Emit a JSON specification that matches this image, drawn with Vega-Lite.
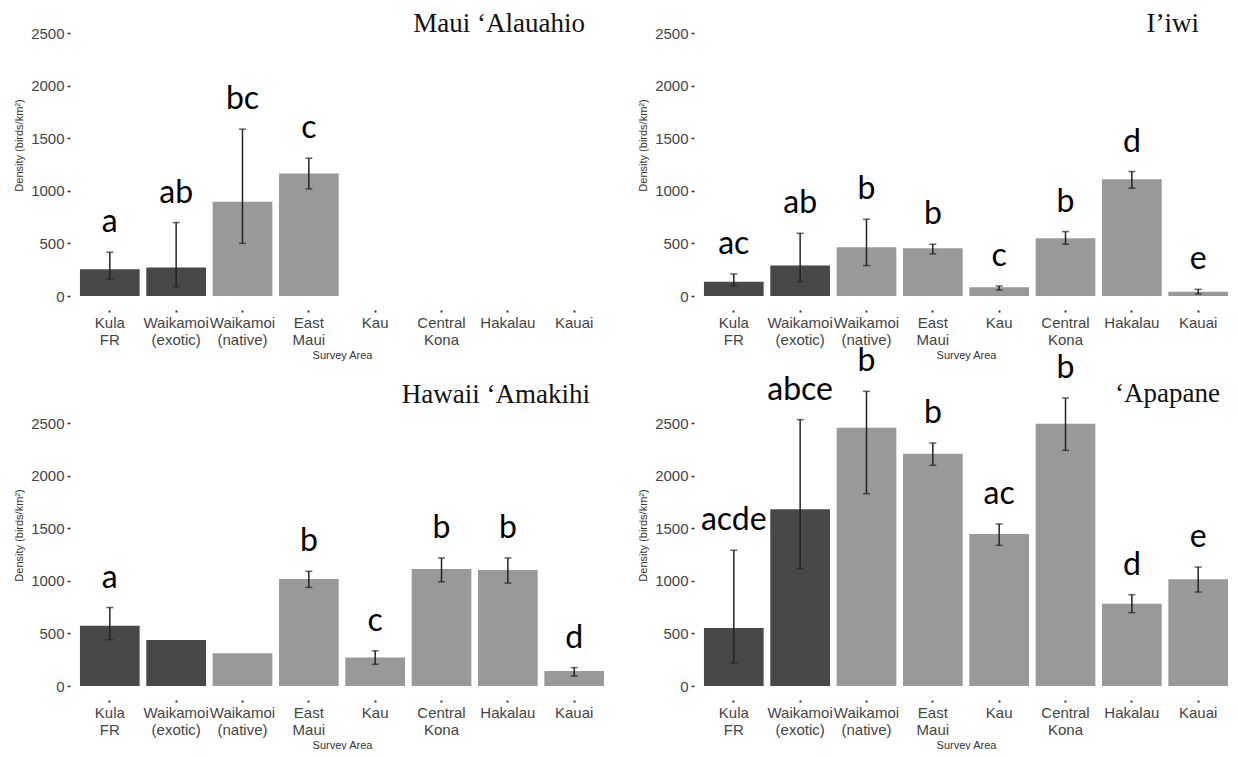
{
  "$schema": "https://vega.github.io/schema/vega-lite/v6.json",
  "background": "white",
  "padding": {"left": 13, "top": 10, "right": 0, "bottom": 0},
  "columns": 2,
  "spacing": {"row": 127, "column": 80},
  "bounds": "flush",
  "data": {
    "values": [
      {"species": "Maui ‘Alauahio", "area": "Kula FR", "forest": "Exotic", "density": 254, "lo": 159, "hi": 416, "letter": "a"},
      {"species": "Maui ‘Alauahio", "area": "Waikamoi (exotic)", "forest": "Exotic", "density": 270, "lo": 89, "hi": 698, "letter": "ab"},
      {"species": "Maui ‘Alauahio", "area": "Waikamoi (native)", "forest": "Native", "density": 895, "lo": 501, "hi": 1586, "letter": "bc"},
      {"species": "Maui ‘Alauahio", "area": "East Maui", "forest": "Native", "density": 1164, "lo": 1018, "hi": 1310, "letter": "c"},

      {"species": "I’iwi", "area": "Kula FR", "forest": "Exotic", "density": 136, "lo": 95, "hi": 209, "letter": "ac"},
      {"species": "I’iwi", "area": "Waikamoi (exotic)", "forest": "Exotic", "density": 289, "lo": 136, "hi": 596, "letter": "ab"},
      {"species": "I’iwi", "area": "Waikamoi (native)", "forest": "Native", "density": 463, "lo": 289, "hi": 730, "letter": "b"},
      {"species": "I’iwi", "area": "East Maui", "forest": "Native", "density": 454, "lo": 400, "hi": 492, "letter": "b"},
      {"species": "I’iwi", "area": "Kau", "forest": "Native", "density": 82, "lo": 57, "hi": 95, "letter": "c"},
      {"species": "I’iwi", "area": "Central Kona", "forest": "Native", "density": 549, "lo": 492, "hi": 612, "letter": "b"},
      {"species": "I’iwi", "area": "Hakalau", "forest": "Native", "density": 1110, "lo": 1025, "hi": 1183, "letter": "d"},
      {"species": "I’iwi", "area": "Kauai", "forest": "Native", "density": 41, "lo": 19, "hi": 63, "letter": "e"},

      {"species": "Hawaii ‘Amakihi", "area": "Kula FR", "forest": "Exotic", "density": 572, "lo": 440, "hi": 746, "letter": "a"},
      {"species": "Hawaii ‘Amakihi", "area": "Waikamoi (exotic)", "forest": "Exotic", "density": 438, "lo": null, "hi": null, "letter": ""},
      {"species": "Hawaii ‘Amakihi", "area": "Waikamoi (native)", "forest": "Native", "density": 311, "lo": null, "hi": null, "letter": ""},
      {"species": "Hawaii ‘Amakihi", "area": "East Maui", "forest": "Native", "density": 1017, "lo": 937, "hi": 1090, "letter": "b"},
      {"species": "Hawaii ‘Amakihi", "area": "Kau", "forest": "Native", "density": 270, "lo": 206, "hi": 334, "letter": "c"},
      {"species": "Hawaii ‘Amakihi", "area": "Central Kona", "forest": "Native", "density": 1112, "lo": 991, "hi": 1217, "letter": "b"},
      {"species": "Hawaii ‘Amakihi", "area": "Hakalau", "forest": "Native", "density": 1102, "lo": 978, "hi": 1217, "letter": "b"},
      {"species": "Hawaii ‘Amakihi", "area": "Kauai", "forest": "Native", "density": 143, "lo": 95, "hi": 175, "letter": "d"},

      {"species": "‘Apapane", "area": "Kula FR", "forest": "Exotic", "density": 551, "lo": 219, "hi": 1290, "letter": "acde"},
      {"species": "‘Apapane", "area": "Waikamoi (exotic)", "forest": "Exotic", "density": 1679, "lo": 1115, "hi": 2532, "letter": "abce"},
      {"species": "‘Apapane", "area": "Waikamoi (native)", "forest": "Native", "density": 2456, "lo": 1828, "hi": 2801, "letter": "b"},
      {"species": "‘Apapane", "area": "East Maui", "forest": "Native", "density": 2208, "lo": 2098, "hi": 2310, "letter": "b"},
      {"species": "‘Apapane", "area": "Kau", "forest": "Native", "density": 1445, "lo": 1337, "hi": 1540, "letter": "ac"},
      {"species": "‘Apapane", "area": "Central Kona", "forest": "Native", "density": 2494, "lo": 2240, "hi": 2738, "letter": "b"},
      {"species": "‘Apapane", "area": "Hakalau", "forest": "Native", "density": 783, "lo": 697, "hi": 868, "letter": "d"},
      {"species": "‘Apapane", "area": "Kauai", "forest": "Native", "density": 1014, "lo": 893, "hi": 1131, "letter": "e"}
    ]
  },
  "concat": [
    {
      "width": 544, "height": 263,
      "title": {"text": "Maui ‘Alauahio", "anchor": "end", "frame": "group", "baseline": "alphabetic", "offset": 4, "dx": -29, "dy": 37},
      "transform": [{"filter": "datum.species === 'Maui ‘Alauahio'"}],
      "encoding": {"x": {"field": "area", "type": "nominal", "title": "Survey Area", "scale": {"domain": ["Kula FR", "Waikamoi (exotic)", "Waikamoi (native)", "East Maui", "Kau", "Central Kona", "Hakalau", "Kauai"]}}},
      "layer": [
        {"mark": {"type": "bar"}, "encoding": {
          "y": {"field": "density", "type": "quantitative", "title": "Density (birds/km²)", "scale": {"domain": [0, 2500], "nice": false}, "axis": {"values": [0, 500, 1000, 1500, 2000, 2500], "format": "d"}},
          "color": {"field": "forest", "type": "nominal", "scale": {"domain": ["Exotic", "Native"], "range": ["#484848", "#999999"]}, "legend": null}}},
        {"transform": [{"filter": "isValid(datum.lo)"}], "mark": {"type": "rule", "strokeWidth": 1.5, "color": "#222222"}, "encoding": {"y": {"field": "lo", "type": "quantitative", "scale": {"domain": [0, 2500], "nice": false}}, "y2": {"field": "hi"}}},
        {"transform": [{"filter": "isValid(datum.lo)"}], "mark": {"type": "tick", "size": 7, "thickness": 1.5, "color": "#222222"}, "encoding": {"y": {"field": "lo", "type": "quantitative", "scale": {"domain": [0, 2500], "nice": false}}}},
        {"transform": [{"filter": "isValid(datum.hi)"}], "mark": {"type": "tick", "size": 7, "thickness": 1.5, "color": "#222222"}, "encoding": {"y": {"field": "hi", "type": "quantitative", "scale": {"domain": [0, 2500], "nice": false}}}},
        {"transform": [{"filter": "datum.letter !== ''"}], "mark": {"type": "text", "font": "Lato", "fontSize": 32, "baseline": "alphabetic", "dy": -20, "color": "#000000"}, "encoding": {"y": {"field": "hi", "type": "quantitative", "scale": {"domain": [0, 2500], "nice": false}}, "text": {"field": "letter"}}}
      ]
    },
    {
      "width": 544, "height": 263,
      "title": {"text": "I’iwi", "anchor": "end", "frame": "group", "baseline": "alphabetic", "offset": 4, "dx": -39, "dy": 37},
      "transform": [{"filter": "datum.species === 'I’iwi'"}],
      "encoding": {"x": {"field": "area", "type": "nominal", "title": "Survey Area", "scale": {"domain": ["Kula FR", "Waikamoi (exotic)", "Waikamoi (native)", "East Maui", "Kau", "Central Kona", "Hakalau", "Kauai"]}}},
      "layer": [
        {"mark": {"type": "bar"}, "encoding": {
          "y": {"field": "density", "type": "quantitative", "title": "Density (birds/km²)", "scale": {"domain": [0, 2500], "nice": false}, "axis": {"values": [0, 500, 1000, 1500, 2000, 2500], "format": "d"}},
          "color": {"field": "forest", "type": "nominal", "scale": {"domain": ["Exotic", "Native"], "range": ["#484848", "#999999"]}, "legend": null}}},
        {"transform": [{"filter": "isValid(datum.lo)"}], "mark": {"type": "rule", "strokeWidth": 1.5, "color": "#222222"}, "encoding": {"y": {"field": "lo", "type": "quantitative", "scale": {"domain": [0, 2500], "nice": false}}, "y2": {"field": "hi"}}},
        {"transform": [{"filter": "isValid(datum.lo)"}], "mark": {"type": "tick", "size": 7, "thickness": 1.5, "color": "#222222"}, "encoding": {"y": {"field": "lo", "type": "quantitative", "scale": {"domain": [0, 2500], "nice": false}}}},
        {"transform": [{"filter": "isValid(datum.hi)"}], "mark": {"type": "tick", "size": 7, "thickness": 1.5, "color": "#222222"}, "encoding": {"y": {"field": "hi", "type": "quantitative", "scale": {"domain": [0, 2500], "nice": false}}}},
        {"transform": [{"filter": "datum.letter !== ''"}], "mark": {"type": "text", "font": "Lato", "fontSize": 32, "baseline": "alphabetic", "dy": -20, "color": "#000000"}, "encoding": {"y": {"field": "hi", "type": "quantitative", "scale": {"domain": [0, 2500], "nice": false}}, "text": {"field": "letter"}}}
      ]
    },
    {
      "width": 544, "height": 263,
      "title": {"text": "Hawaii ‘Amakihi", "anchor": "end", "frame": "group", "baseline": "alphabetic", "offset": 21, "dx": -24, "dy": 35},
      "transform": [{"filter": "datum.species === 'Hawaii ‘Amakihi'"}],
      "encoding": {"x": {"field": "area", "type": "nominal", "title": "Survey Area", "scale": {"domain": ["Kula FR", "Waikamoi (exotic)", "Waikamoi (native)", "East Maui", "Kau", "Central Kona", "Hakalau", "Kauai"]}}},
      "layer": [
        {"mark": {"type": "bar"}, "encoding": {
          "y": {"field": "density", "type": "quantitative", "title": "Density (birds/km²)", "scale": {"domain": [0, 2500], "nice": false}, "axis": {"values": [0, 500, 1000, 1500, 2000, 2500], "format": "d"}},
          "color": {"field": "forest", "type": "nominal", "scale": {"domain": ["Exotic", "Native"], "range": ["#484848", "#999999"]}, "legend": null}}},
        {"transform": [{"filter": "isValid(datum.lo)"}], "mark": {"type": "rule", "strokeWidth": 1.5, "color": "#222222"}, "encoding": {"y": {"field": "lo", "type": "quantitative", "scale": {"domain": [0, 2500], "nice": false}}, "y2": {"field": "hi"}}},
        {"transform": [{"filter": "isValid(datum.lo)"}], "mark": {"type": "tick", "size": 7, "thickness": 1.5, "color": "#222222"}, "encoding": {"y": {"field": "lo", "type": "quantitative", "scale": {"domain": [0, 2500], "nice": false}}}},
        {"transform": [{"filter": "isValid(datum.hi)"}], "mark": {"type": "tick", "size": 7, "thickness": 1.5, "color": "#222222"}, "encoding": {"y": {"field": "hi", "type": "quantitative", "scale": {"domain": [0, 2500], "nice": false}}}},
        {"transform": [{"filter": "datum.letter !== ''"}], "mark": {"type": "text", "font": "Lato", "fontSize": 32, "baseline": "alphabetic", "dy": -20, "color": "#000000"}, "encoding": {"y": {"field": "hi", "type": "quantitative", "scale": {"domain": [0, 2500], "nice": false}}, "text": {"field": "letter"}}}
      ]
    },
    {
      "width": 544, "height": 263,
      "title": {"text": "‘Apapane", "anchor": "end", "frame": "group", "baseline": "alphabetic", "offset": 21, "dx": -18, "dy": 105},
      "transform": [{"filter": "datum.species === '‘Apapane'"}],
      "encoding": {"x": {"field": "area", "type": "nominal", "title": "Survey Area", "scale": {"domain": ["Kula FR", "Waikamoi (exotic)", "Waikamoi (native)", "East Maui", "Kau", "Central Kona", "Hakalau", "Kauai"]}}},
      "layer": [
        {"mark": {"type": "bar"}, "encoding": {
          "y": {"field": "density", "type": "quantitative", "title": "Density (birds/km²)", "scale": {"domain": [0, 2500], "nice": false}, "axis": {"values": [0, 500, 1000, 1500, 2000, 2500], "format": "d"}},
          "color": {"field": "forest", "type": "nominal", "scale": {"domain": ["Exotic", "Native"], "range": ["#484848", "#999999"]}, "legend": null}}},
        {"transform": [{"filter": "isValid(datum.lo)"}], "mark": {"type": "rule", "strokeWidth": 1.5, "color": "#222222"}, "encoding": {"y": {"field": "lo", "type": "quantitative", "scale": {"domain": [0, 2500], "nice": false}}, "y2": {"field": "hi"}}},
        {"transform": [{"filter": "isValid(datum.lo)"}], "mark": {"type": "tick", "size": 7, "thickness": 1.5, "color": "#222222"}, "encoding": {"y": {"field": "lo", "type": "quantitative", "scale": {"domain": [0, 2500], "nice": false}}}},
        {"transform": [{"filter": "isValid(datum.hi)"}], "mark": {"type": "tick", "size": 7, "thickness": 1.5, "color": "#222222"}, "encoding": {"y": {"field": "hi", "type": "quantitative", "scale": {"domain": [0, 2500], "nice": false}}}},
        {"transform": [{"filter": "datum.letter !== ''"}], "mark": {"type": "text", "font": "Lato", "fontSize": 32, "baseline": "alphabetic", "dy": -20, "color": "#000000"}, "encoding": {"y": {"field": "hi", "type": "quantitative", "scale": {"domain": [0, 2500], "nice": false}}, "text": {"field": "letter"}}}
      ]
    }
  ],
  "config": {
    "view": {"stroke": null},
    "font": "Liberation Sans",
    "scale": {"bandPaddingInner": 0.1, "bandPaddingOuter": 0.15},
    "title": {"font": "Liberation Serif", "fontSize": 27, "fontWeight": "normal", "color": "#111111"},
    "axis": {"grid": false, "domain": false, "titleFontWeight": "normal", "titleColor": "#333333", "titleFontSize": 11, "labelColor": "#444444", "labelFontSize": 15, "tickColor": "#333333", "tickWidth": 1.5},
    "axisY": {"tickSize": 3, "labelPadding": 3, "titlePadding": 6, "titleY": 112},
    "axisX": {"offset": 14, "tickSize": 2, "tickWidth": 2, "labelAngle": 0, "labelPadding": 3, "labelLineHeight": 17, "labelExpr": "split(datum.label, ' ')", "titlePadding": 2}
  }
}
